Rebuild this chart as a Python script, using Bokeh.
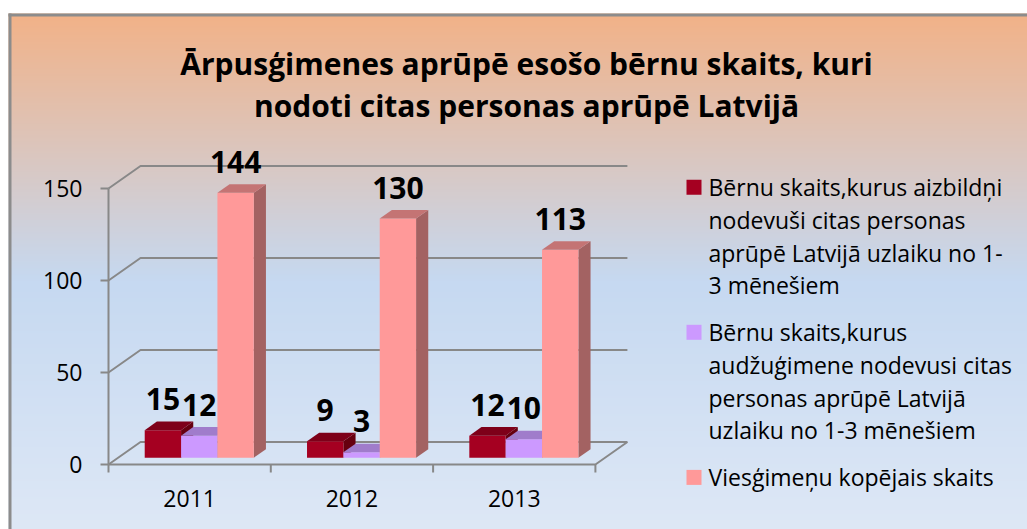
import numpy as np
from bokeh.plotting import figure
from bokeh.models import Range1d, ColumnDataSource
from bokeh.core.properties import value
from bokeh.embed import file_html
from bokeh.resources import INLINE

# ---------------- data ----------------
title_lines = ["Ārpusģimenes aprūpē esošo bērnu skaits, kuri",
               "nodoti citas personas aprūpē Latvijā"]
years = ["2011", "2012", "2013"]
guardians = [15, 9, 12]      # aizbildņi
foster = [12, 3, 10]         # audžuģimene
guest = [144, 130, 113]      # viesģimeņu kopējais skaits
y_ticks = [0, 50, 100, 150]
legend_lines = [
    ["Bērnu skaits,kurus aizbildņi", "nodevuši citas personas",
     "aprūpē Latvijā uzlaiku no 1-", "3 mēnešiem"],
    ["Bērnu skaits,kurus", "audžuģimene nodevusi citas",
     "personas aprūpē Latvijā", "uzlaiku no 1-3 mēnešiem"],
    ["Viesģimeņu kopējais skaits"],
]

# ---------------- style / layout ----------------
FONT = "Open Sans"
front_colors = ["#A50021", "#CC99FF", "#FF9999"]
top_colors = ["#7E0019", "#A07CCB", "#C47474"]
side_colors = ["#66000F", "#8E6BB5", "#A36262"]
GRID = "#888888"

W, H = 1027, 529
OX = 108.0      # px of first category boundary
CW = 162.3      # px per category
OY = 464.0      # px of value 0 (from top)
PPU = 1.84      # px per unit
DEPTH_PX = (32.0, 22.5)
F0 = 0.30       # depth fraction of bar front face
BD = 0.38       # bar depth fraction
BAR_W = 0.224
GAP = (1 - 3 * BAR_W) / 2

ddx = DEPTH_PX[0] / CW
ddy = DEPTH_PX[1] / PPU


def X(fx):
    return -0.5 + (fx - OX) / CW


def Y(fy):
    return (OY - fy) / PPU


p = figure(width=W, height=H, x_range=Range1d(X(0), X(W)), y_range=Range1d(Y(H), Y(0)),
           output_backend="svg", toolbar_location=None, min_border=0,
           x_axis_location=None, y_axis_location=None)
p.grid.visible = False
p.outline_line_color = None
p.background_fill_color = "white"
p.border_fill_color = "white"

# ---------------- background gradient ----------------
top_px = 13
rows = H - top_px
page_y = np.arange(rows) + top_px
stops_y = [13, 280, 529]
stops_c = [(242, 178, 136), (198, 217, 241), (222, 232, 246)]
chan = [np.interp(page_y, stops_y, [c[k] for c in stops_c]).astype(np.uint32) for k in range(3)]
rgba = (255 << 24) | (chan[2] << 16) | (chan[1] << 8) | chan[0]
img = rgba[::-1].reshape(rows, 1).astype(np.uint32)
p.image_rgba(image=[img], x=X(8), y=Y(H), dw=X(W) - X(8), dh=Y(top_px) - Y(H))

# border
p.line([X(8), X(W)], [Y(14.5), Y(14.5)], line_color="#8C8C8C", line_width=3)
p.line([X(9.5), X(9.5)], [Y(13), Y(H)], line_color="#8C8C8C", line_width=3)

# ---------------- 3D walls / grid ----------------
n = len(years)
left_b, right_b = -0.5, n - 0.5
gx, gy = [], []
for v in y_ticks:
    gx.append([left_b, left_b + ddx, right_b + ddx])
    gy.append([v, v + ddy, v + ddy])
p.multi_line(gx, gy, line_color=GRID, line_width=2)
# front vertical axis
p.line([left_b, left_b], [0, max(y_ticks)], line_color=GRID, line_width=2)
# floor front edge + right diagonal
p.line([left_b, right_b, right_b + ddx], [0, 0, ddy], line_color=GRID, line_width=2)
# y ticks
tick_len_x = 8 / CW
p.multi_line([[left_b - tick_len_x, left_b] for v in y_ticks], [[v, v] for v in y_ticks],
             line_color=GRID, line_width=2)
# x ticks at category boundaries
bounds = [left_b + k for k in range(n + 1)]
p.multi_line([[b, b] for b in bounds], [[0, -8 / PPU] for b in bounds],
             line_color=GRID, line_width=2)

# ---------------- bars ----------------
series = [guardians, foster, guest]
for j, vals in enumerate(series):
    L, R, B, T = [], [], [], []
    tops_x, tops_y, side_x, side_y = [], [], [], []
    for i, v in enumerate(vals):
        l = i - 0.5 + GAP + j * BAR_W + F0 * ddx
        r = l + BAR_W
        b = F0 * ddy
        t = v + F0 * ddy
        L.append(l); R.append(r); B.append(b); T.append(t)
        tops_x.append([l, r, r + BD * ddx, l + BD * ddx])
        tops_y.append([t, t, t + BD * ddy, t + BD * ddy])
        side_x.append([r, r + BD * ddx, r + BD * ddx, r])
        side_y.append([b, b + BD * ddy, t + BD * ddy, t])
    p.patches(side_x, side_y, fill_color=side_colors[j], line_color=None)
    p.quad(left=L, right=R, bottom=B, top=T, fill_color=front_colors[j], line_color=None)
    p.patches(tops_x, tops_y, fill_color=top_colors[j], line_color=None)

    src = ColumnDataSource(dict(x=[(l + r) / 2 for l, r in zip(L, R)], y=T,
                                t=[str(v) for v in vals]))
    p.text(x="x", y="y", text="t", source=src, y_offset=-31,
           text_align="center", text_baseline="middle",
           text_font=value(FONT), text_font_style="bold",
           text_font_size="30px", text_color="black")

# ---------------- axis labels ----------------
p.text(x=[X(82)] * len(y_ticks), y=y_ticks, text=[str(v) for v in y_ticks],
       text_align="right", text_baseline="middle", text_font=value(FONT),
       text_font_size="23px", text_color="black")
p.text(x=list(range(n)), y=[Y(498)] * n, text=years,
       text_align="center", text_baseline="middle", text_font=value(FONT),
       text_font_size="23px", text_color="black")

# ---------------- title ----------------
p.text(x=[X(526)] * 2, y=[Y(63), Y(105)], text=title_lines,
       text_align="center", text_baseline="middle", text_font=value(FONT),
       text_font_style="bold", text_font_size="30px", text_color="black")

# ---------------- legend ----------------
LINE_H = 32.7
ENTRY_GAP = 47.0
ly = 186.7
sq_y, tx, ty, tt = [], [], [], []
for k, lines in enumerate(legend_lines):
    sq_y.append(Y(ly))
    for m, s in enumerate(lines):
        tx.append(X(708)); ty.append(Y(ly + m * LINE_H)); tt.append(s)
    ly = ly + (len(lines) - 1) * LINE_H + ENTRY_GAP
p.scatter(x=[X(693.5)] * 3, y=sq_y, marker="square", size=15,
          fill_color=front_colors, line_color=None)
p.text(x=tx, y=ty, text=tt, text_align="left", text_baseline="middle",
       text_font=value(FONT), text_font_size="23px", text_color="black")

open("out.html", "w").write(file_html(p, INLINE))
